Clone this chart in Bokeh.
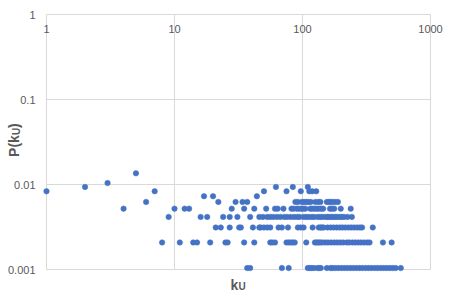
from bokeh.plotting import figure
from bokeh.models import Range1d, Label, ColumnDataSource
from bokeh.embed import file_html
from bokeh.resources import INLINE

# ---- tick values / labels ----
x_ticks = [1, 10, 100, 1000]
x_tick_labels = ["1", "10", "100", "1000"]
y_ticks = [0.001, 0.01, 0.1, 1]
y_tick_labels = ["0.001", "0.01", "0.1", "1"]

# ---- data: P(k_U) levels and the k_U values found at each level ----
p_levels = [0.00104, 0.00208, 0.00312, 0.00416, 0.0052, 0.00624,
            0.00728, 0.00832, 0.00936, 0.0104, 0.01352]

k_p1 = [37, 39, 69, 78, 110, 114, 118, 123, 131, 135, 139, 155, 166, 171, 180,
        190, 201, 212, 224, 237, 250, 264, 279, 294, 311, 328, 346, 366, 386,
        408, 431, 455, 480, 507, 535, 586]
k_p2 = [8, 11, 14, 15, 19, 25, 26, 35, 42, 56, 58, 61, 75, 78, 81, 84, 87, 107,
        125, 129, 133, 137, 142, 150, 158, 167, 177, 187, 197, 208, 222, 232,
        245, 258, 272, 287, 303, 320, 334, 425, 497]
k_p3 = [21, 23, 27, 32, 33, 41, 46, 47, 50, 53, 56, 65, 69, 77, 92, 97, 102,
        120, 134, 138, 142, 146, 157, 166, 175, 185, 195, 205, 216, 228, 240,
        253, 267, 281, 292, 354]
k_p4 = [9, 16, 18, 24, 27, 31, 39, 46, 49, 53, 56, 59, 63, 67, 72, 76, 81, 86,
        91, 95, 102, 107, 112, 118, 123, 131, 137, 143, 151, 157, 161, 168, 174,
        181, 187, 196, 203, 211, 225, 243]
k_p5 = [4, 10, 12, 13, 28, 35, 42, 52, 61, 64, 71, 82, 85, 90, 94, 98, 101,
        105, 115, 119, 124, 129, 134, 140, 145, 164, 170, 177, 199, 238]
k_p6 = [6, 22, 30, 34, 37, 88, 92, 99, 103, 107, 111, 116, 126, 133, 138, 155,
        160, 166, 172, 180, 189]
k_p7 = [17, 20, 44]
k_p8 = [1, 7, 50, 75, 97, 113, 119, 128]
k_p9 = [2, 62, 84, 110]
k_p10 = [3]
k_p13 = [5]

k_by_level = [k_p1, k_p2, k_p3, k_p4, k_p5, k_p6, k_p7, k_p8, k_p9, k_p10, k_p13]

xs, ys = [], []
for pv, ks in zip(p_levels, k_by_level):
    xs.extend(ks)
    ys.extend([pv] * len(ks))
source = ColumnDataSource(data=dict(k=xs, p=ys))

GRID = "#D9D9D9"
TXT = "#595959"
FONT = "Liberation Sans"

# ---- layout: plot area inside a 449x300 canvas ----
W, H = 449, 300
LEFT, RIGHT, TOP, BOTTOM = 46, 430, 14, 269
x_lo, x_hi = x_ticks[0], x_ticks[-1]
y_lo, y_hi = y_ticks[0], y_ticks[-1]
x_dec = (RIGHT - LEFT) / 3.0
y_dec = (BOTTOM - TOP) / 3.0
x_range = Range1d(x_lo * 10 ** (-LEFT / x_dec), x_hi * 10 ** ((W - RIGHT) / x_dec))
y_range = Range1d(y_lo * 10 ** (-(H - BOTTOM) / y_dec), y_hi * 10 ** (TOP / y_dec))

p = figure(width=W, height=H, x_axis_type="log", y_axis_type="log",
           x_range=x_range, y_range=y_range,
           x_axis_location=None, y_axis_location=None,
           output_backend="svg", toolbar_location=None, min_border=0)
p.grid.visible = False
p.outline_line_color = None
p.background_fill_color = "white"
p.border_fill_color = "white"

# gridlines of the plot area (built from the tick arrays)
p.segment(x0=x_ticks, y0=[y_lo] * len(x_ticks), x1=x_ticks, y1=[y_hi] * len(x_ticks),
          line_color=GRID, line_width=1)
p.segment(x0=[x_lo] * len(y_ticks), y0=y_ticks, x1=[x_hi] * len(y_ticks), y1=y_ticks,
          line_color=GRID, line_width=1)

p.scatter("k", "p", source=source, size=5.5, fill_color="#4472C4",
          line_color="#4472C4", line_width=0.5)

# x tick labels (just below the top edge, Excel "axis crosses at max")
for t, lab in zip(x_ticks, x_tick_labels):
    p.add_layout(Label(x=t, y=y_hi, text=lab, y_offset=-10, text_align="center",
                       text_baseline="top", text_font=FONT,
                       text_font_size="11px", text_color=TXT))
# y tick labels (left of plot area)
for t, lab in zip(y_ticks, y_tick_labels):
    p.add_layout(Label(x=x_lo, y=t, text=lab, x_offset=-11, text_align="right",
                       text_baseline="middle", text_font=FONT,
                       text_font_size="11px", text_color=TXT))

ymid = (y_lo * y_hi) ** 0.5
xmid = (x_lo * x_hi) ** 0.5
# y axis title  P(k_U)
title_kw = dict(text_font=FONT, text_color=TXT, text_font_style="bold",
                text_align="left", text_baseline="alphabetic")
p.add_layout(Label(x=x_lo, y=ymid, text="P(k", angle=90, angle_units="deg",
                   x_offset=-33, y_offset=-14.9, text_font_size="14px", **title_kw))
p.add_layout(Label(x=x_lo, y=ymid, text="U", angle=90, angle_units="deg",
                   x_offset=-30, y_offset=6.9, text_font_size="10px", **title_kw))
p.add_layout(Label(x=x_lo, y=ymid, text=")", angle=90, angle_units="deg",
                   x_offset=-33, y_offset=14.1, text_font_size="14px", **title_kw))
# x axis title  k_U
p.add_layout(Label(x=xmid, y=y_lo, text="k", x_offset=-8, y_offset=-15,
                   text_font_size="14px", **title_kw))
p.add_layout(Label(x=xmid, y=y_lo, text="U", x_offset=0, y_offset=-16.5,
                   text_font_size="10px", **title_kw))

open("out.html", "w").write(file_html(p, INLINE))
